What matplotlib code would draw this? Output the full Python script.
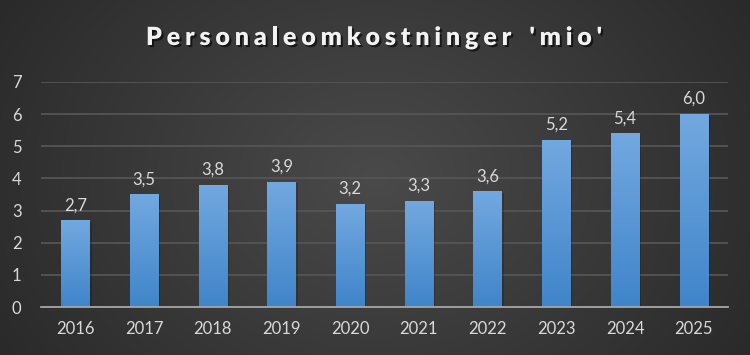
import matplotlib.pyplot as plt
import matplotlib.patheffects as pe
import numpy as np

years = ['2016', '2017', '2018', '2019', '2020', '2021', '2022', '2023', '2024', '2025']
costs = [2.7, 3.5, 3.8, 3.9, 3.2, 3.3, 3.6, 5.2, 5.4, 6.0]
labels = ['2,7', '3,5', '3,8', '3,9', '3,2', '3,3', '3,6', '5,2', '5,4', '6,0']
title = "Personaleomkostninger 'mio'"

plt.rcParams['font.family'] = ['Lato', 'DejaVu Sans']

fig = plt.figure(figsize=(7.5, 3.55), dpi=100)

# radial gradient background
bg = fig.add_axes([0, 0, 1, 1])
yy, xx = np.mgrid[-1:1:355j, -1:1:750j]
r = np.sqrt(xx ** 2 + (yy * 0.6) ** 2)
shade = 0.29 - 0.14 * np.clip(r, 0, 1.3) / 1.3
bg.imshow(np.dstack([shade] * 3), aspect='auto', extent=[0, 1, 0, 1])
bg.axis('off')

ax = fig.add_axes([41 / 750, 1 - 307 / 355, 687 / 750, 225 / 355])
ax.patch.set_alpha(0)
x = np.arange(len(years))
bars = ax.bar(x, costs, width=0.41, color='#5b9bd5', zorder=3)

# vertical gradient inside each bar
grad = np.linspace(0, 1, 256).reshape(-1, 1)
top = np.array([0.45, 0.66, 0.88])
bot = np.array([0.25, 0.52, 0.79])
cols = bot + (top - bot) * grad[:, :, None]
for b in bars:
    b.set_path_effects([pe.SimplePatchShadow(offset=(1.5, -1), shadow_rgbFace='black', alpha=0.18)])
    bx, bw, bh = b.get_x(), b.get_width(), b.get_height()
    im = ax.imshow(cols, extent=[bx, bx + bw, 0, bh], origin='lower', aspect='auto', zorder=4)
    im.set_clip_path(b)

for xi, v, lab in zip(x, costs, labels):
    ax.text(xi, v + 0.22, lab, ha='center', va='bottom', color='#d9d9d9', fontsize=12)

ax.set_xlim(-0.5, len(years) - 0.5)
ax.set_ylim(0, 7)
ax.set_xticks(x)
ax.set_xticklabels(years)
ax.set_yticks(range(8))
ax.tick_params(length=0, colors='#d9d9d9', labelsize=12)
ax.tick_params(axis='x', pad=10)
ax.tick_params(axis='y', pad=14)
ax.grid(axis='y', color='#555555', linewidth=1.3, zorder=0)
for s in ['top', 'right', 'left']:
    ax.spines[s].set_visible(False)
ax.spines['bottom'].set_color('#a6a6a6')
ax.spines['bottom'].set_linewidth(1.3)
ax.spines['bottom'].set_zorder(5)

# title with letter spacing, drawn char by char
renderer = fig.canvas.get_renderer()
tkw = dict(color='#f2f2f2', fontsize=18, fontweight='heavy', va='baseline', ha='left',
           path_effects=[pe.withSimplePatchShadow(offset=(1.5, -1.5), shadow_rgbFace='black', alpha=0.6)])
widths = []
for ch in title:
    t = fig.text(0, 0, ch if ch != ' ' else 'n', **tkw)
    w = t.get_window_extent(renderer).width
    widths.append(w * 0.6 if ch == ' ' else w)
    t.remove()
span = 456
track = (span - sum(widths)) / (len(title) - 1)
xpos = 374 - span / 2
for ch, w in zip(title, widths):
    if ch != ' ':
        fig.text(xpos / 750, 1 - 45 / 355, ch, **tkw)
    xpos += w + track

fig.savefig('out.png', dpi=100)
